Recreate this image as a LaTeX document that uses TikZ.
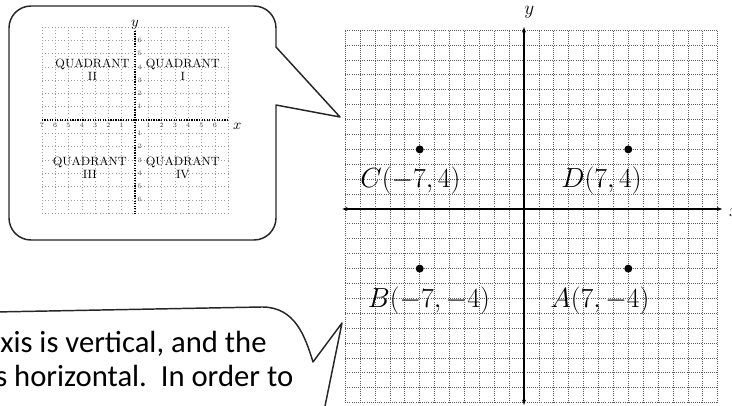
\documentclass[tikz,border=0pt]{standalone}
\usepackage{fontspec}
\usepackage{tikz}
\usetikzlibrary{arrows.meta,positioning}
\newfontfamily\calibri{Carlito}
\definecolor{ink}{HTML}{262626}
\definecolor{gridink}{HTML}{5A5A5A}

\begin{document}
\begin{tikzpicture}[
  x=0.75pt,y=0.75pt,
  bubble/.style={draw=ink,line width=1.1pt,line join=round},
  fine/.style={draw=gridink,densely dotted,line width=0.6pt},
  faint/.style={draw=gridink!60,dotted,line width=0.4pt},
  axis/.style={draw=black,line width=1.2pt,{Stealth[length=4pt]}-{Stealth[length=4pt]}},
  minaxis/.style={draw=black,densely dotted,line width=0.9pt},
  dot/.style={circle,fill=black,inner sep=0pt,minimum size=6pt},
  ptlabel/.style={font=\fontsize{20}{22}\selectfont,inner sep=0pt},
  quad/.style={font=\fontsize{9}{10}\selectfont,inner sep=0pt,align=center},
  tick/.style={font=\fontsize{5}{5}\selectfont,inner sep=0pt,text=gridink},
  note/.style={font=\calibri\fontsize{23}{25}\selectfont,inner sep=0pt,anchor=base west}
]
\useasboundingbox (0,0) rectangle (732,406);

% upper speech bubble
\draw[bubble] (340,289) -- (276,301) -- (276,188)
  arc[start angle=0,end angle=-90,radius=22] -- (31,166)
  arc[start angle=270,end angle=180,radius=22] -- (9,378)
  arc[start angle=180,end angle=90,radius=22] -- (254,400)
  arc[start angle=90,end angle=0,radius=22] -- (276,359) -- cycle;

% small quadrant picture
\begin{scope}[shift={(135,286)},x=9.975pt,y=9.975pt]
  \foreach \k in {-7,...,7} {
    \draw[faint] (\k,-7) -- (\k,7);
    \draw[faint] (-7,\k) -- (7,\k);
  }
  \coordinate (sxl) at (-7,0);
  \coordinate (sxr) at (7,0);
  \coordinate (syb) at (0,-7.1);
  \coordinate (syt) at (0,6.8);
  \draw[minaxis] (sxl) -- (sxr);
  \draw[minaxis] (syb) -- (syt);
  \foreach \k in {1,...,7} \node[tick] (sn\k) at (-\k,-0.4) {\k};
  \foreach \k in {1,...,6} \node[tick] (sp\k) at (\k,-0.4) {\k};
  \foreach \k in {1,...,6} {
    \node[tick] (su\k) at (0.35,\k) {\k};
    \node[tick] (sd\k) at (0.35,-\k) {\k};
  }
  \node[font=\fontsize{11}{11}\selectfont,anchor=south,inner sep=0pt] (sy) at (syt) {$y$};
  \node[font=\fontsize{11}{11}\selectfont,inner sep=0pt] (sx) at (7.7,-0.5) {$x$};
  \node[quad] (q2) at (-3.2,3.8) {QUADRANT\\II};
  \node[quad] (q1) at (3.6,3.8) {QUADRANT\\I};
  \node[quad] (q3) at (-3.4,-3.6) {QUADRANT\\III};
  \node[quad] (q4) at (3.6,-3.6) {QUADRANT\\IV};
\end{scope}

% lower speech bubble
\draw[bubble] (-5,94) -- (262,99) .. controls (295,99) and (305,70) .. (313,44)
  -- (342,83) -- (324,-5);
\node[note] (line1) at (0,53) {xis is vertical, and the};
\node[note] (line2) at (-5,19) {s horizontal.\ \ In order to};

% big coordinate grid
\begin{scope}[shift={(524,197)},x=11.175pt,y=11.175pt]
  \foreach \k in {-12,...,13} \draw[fine] (\k,-13) -- (\k,12);
  \foreach \k in {-13,...,12} \draw[fine] (-12,\k) -- (13,\k);
  \coordinate (xl) at (-12.2,0);
  \coordinate (xr) at (13.3,0);
  \coordinate (yb) at (0,-13.15);
  \coordinate (yt) at (0,12.2);
  \draw[axis] (xl) -- (xr);
  \draw[axis] (yb) -- (yt);
  \node[font=\fontsize{14}{14}\selectfont,inner sep=0pt] (ylab) at (0.35,13.2) {$y$};
  \node[font=\fontsize{14}{14}\selectfont,inner sep=0pt,anchor=west] (xlab) at (13.75,-0.25) {$x$};
  \node[dot] (A) at (7,-4) {};
  \node[dot] (B) at (-7,-4) {};
  \node[dot] (C) at (-7,4) {};
  \node[dot] (D) at (7,4) {};
  \node[ptlabel] (Alab) at (5.1,-6.17) {$A(7,-4)$};
  \node[ptlabel] (Blab) at (-6.38,-6.17) {$B(-7,-4)$};
  \node[ptlabel] (Clab) at (-7.62,1.88) {$C(-7,4)$};
  \node[ptlabel] (Dlab) at (5.2,1.88) {$D(7,4)$};
\end{scope}
\end{tikzpicture}
\end{document}
